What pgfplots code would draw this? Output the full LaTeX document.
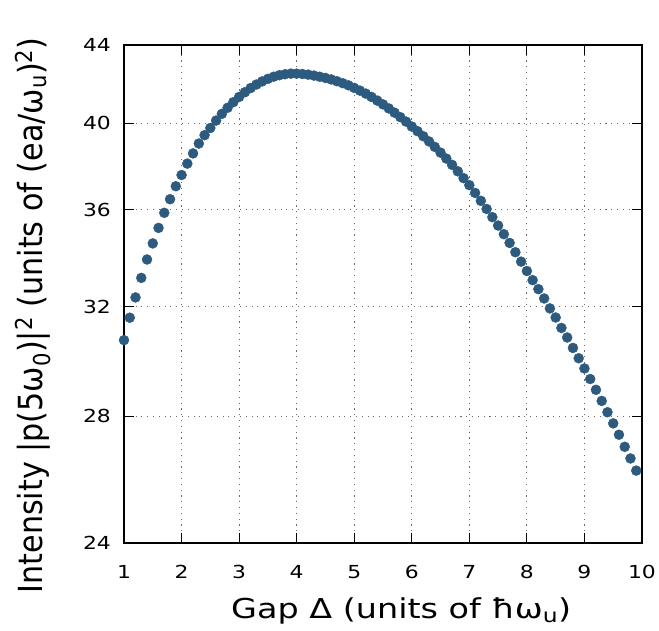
\documentclass[border=0pt]{standalone}
\usepackage{fontspec}
\setmainfont{DejaVu Sans}[FakeStretch=1.22]
\newfontfamily\ylabfont{DejaVu Sans}
\usepackage{pgfplots}
\usepackage{pgfplotstable}
\pgfplotsset{compat=1.18}
\definecolor{ptcol}{HTML}{2D5B80}
\pgfplotstableread{
x y
1.0 30.72
1.1 31.57
1.2 32.36
1.3 33.14
1.4 33.89
1.5 34.56
1.6 35.22
1.7 35.87
1.8 36.47
1.9 37.05
2.0 37.56
2.1 38.09
2.2 38.56
2.3 39.03
2.4 39.43
2.5 39.78
2.6 40.13
2.7 40.46
2.8 40.76
2.9 41.04
3.0 41.30
3.1 41.54
3.2 41.75
3.3 41.93
3.4 42.09
3.5 42.22
3.6 42.33
3.7 42.41
3.8 42.46
3.9 42.49
4.0 42.49
4.1 42.47
4.2 42.44
4.3 42.39
4.4 42.33
4.5 42.27
4.6 42.19
4.7 42.10
4.8 42.00
4.9 41.89
5.0 41.76
5.1 41.62
5.2 41.47
5.3 41.30
5.4 41.12
5.5 40.93
5.6 40.73
5.7 40.52
5.8 40.30
5.9 40.08
6.0 39.85
6.1 39.62
6.2 39.38
6.3 39.13
6.4 38.87
6.5 38.60
6.6 38.32
6.7 38.03
6.8 37.73
6.9 37.42
7.0 37.10
7.1 36.75
7.2 36.40
7.3 36.04
7.4 35.68
7.5 35.32
7.6 34.95
7.7 34.58
7.8 34.19
7.9 33.80
8.0 33.42
8.1 33.05
8.2 32.69
8.3 32.32
8.4 31.93
8.5 31.58
8.6 31.18
8.7 30.82
8.8 30.43
8.9 30.05
9.0 29.68
9.1 29.30
9.2 28.92
9.3 28.53
9.4 28.14
9.5 27.76
9.6 27.38
9.7 26.98
9.8 26.60
9.9 26.21
}\datatable
\begin{document}
\begin{tikzpicture}
\path[use as bounding box] (-124bp,-88bp) rectangle (535bp,543bp);
\begin{axis}[
  at={(0,0)}, anchor=south west,
  width=518bp, height=498bp, scale only axis,
  xmin=1, xmax=10, ymin=24, ymax=44, ymode=log,
  xtick={1,2,...,10},
  ytick={24,28,32,36,40,44}, yticklabels={24,28,32,36,40,44},
  yminorticks=false, xminorticks=false,
  grid=major,
  major grid style={gray!85!black, line width=1.1bp, dash pattern=on 1.1bp off 4.7bp},
  axis line style={line width=1.2bp},
  tick style={black, line width=1.1bp},
  major tick length=10bp,
  tick align=inside,
  clip=false,
  /pgf/number format/assume math mode=true,
  tick label style={font=\fontsize{18}{18}\selectfont},
  xticklabel style={anchor=center, yshift=-29bp},
  yticklabel style={anchor=center, xshift=-27bp},
  xlabel={Gap Δ (units of ħω\textsubscript{u})},
  xlabel style={font=\fontsize{27.5}{27.5}\selectfont, at={(axis description cs:0.535,-0.137)}, anchor=center},
  ylabel={\scalebox{1}[1.1]{\ylabfont\fontsize{30.3}{30.3}\selectfont Intensity |p(5ω\textsubscript{0})|\textsuperscript{2} (units of (ea/ω\textsubscript{u})\textsuperscript{2})}},
  ylabel style={at={(axis description cs:-0.175,0.457)}, anchor=center},
]
\addplot[only marks, mark=*, mark size=5bp, color=ptcol, mark options={fill=ptcol, draw=ptcol}] table[x=x, y=y] {\datatable};
\end{axis}
\end{tikzpicture}
\end{document}
